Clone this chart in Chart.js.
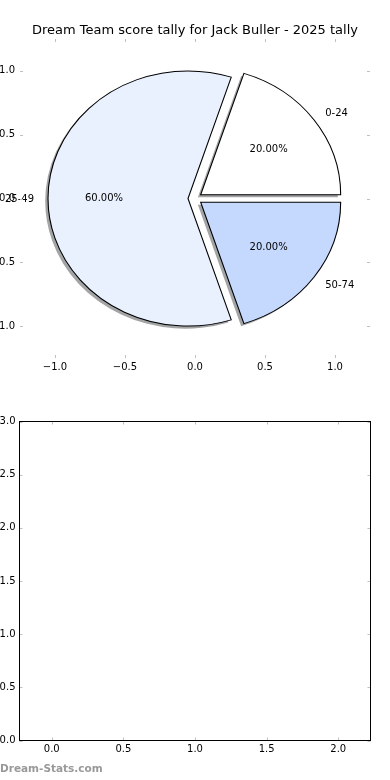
<!DOCTYPE html>
<html>
<head>
<meta charset="utf-8">
<script src="https://cdn.jsdelivr.net/npm/chart.js@4.4.1/dist/chart.umd.min.js"></script>
<style>
  body { margin: 0; background: #fff; }
  #wrap { position: relative; width: 390px; height: 780px; overflow: hidden; }
  #pieChart { position: absolute; left: 0; top: 0; }
  #emptyChart { position: absolute; left: 0; top: 390px; }
  #credit { position: absolute; left: 0; top: 762px; font: bold 10.5px "DejaVu Sans", sans-serif; color: #999; }
</style>
</head>
<body>
<div id="wrap">
  <canvas id="pieChart" width="390" height="390"></canvas>
  <canvas id="emptyChart" width="390" height="390"></canvas>
  <div id="credit">Dream-Stats.com</div>
</div>
<script>
const chartTitle = "Dream Team score tally for Jack Buller - 2025 tally";
const scoreBands = ["0-24", "25-49", "50-74"];
const bandCounts = [1, 3, 1];
const bandColors = ["#ffffff", "#e9f0fe", "#c5d8fd"];
const pieTicks = [-1, -0.5, 0, 0.5, 1];
const lowerXTicks = [0, 0.5, 1, 1.5, 2];
const lowerYTicks = [0, 0.5, 1, 1.5, 2, 2.5, 3];

const explode = 0.05;

Chart.defaults.font.family = '"DejaVu Sans", sans-serif';
Chart.defaults.font.size = 10;
Chart.defaults.color = "#000";

// matplotlib style labels: 1.0, 0.5, −0.5
const fmt = v => (v < 0 ? "\u2212" : "") + Math.abs(v).toFixed(1);

// small grey ticks pointing inward on all four sides
const insideTicks = {
  id: "insideTicks",
  afterDraw(chart) {
    const { ctx, chartArea: a, scales } = chart;
    ctx.save();
    ctx.strokeStyle = "#c0c0c0";
    ctx.lineWidth = 1;
    ctx.beginPath();
    scales.x.ticks.forEach(t => {
      const px = Math.round(scales.x.getPixelForValue(t.value)) + 0.5;
      ctx.moveTo(px, a.top); ctx.lineTo(px, a.top + 3);
      ctx.moveTo(px, a.bottom); ctx.lineTo(px, a.bottom - 3);
    });
    scales.y.ticks.forEach(t => {
      const py = Math.round(scales.y.getPixelForValue(t.value)) + 0.5;
      ctx.moveTo(a.left, py); ctx.lineTo(a.left + 3, py);
      ctx.moveTo(a.right, py); ctx.lineTo(a.right - 3, py);
    });
    ctx.stroke();
    ctx.restore();
  }
};

const frame = {
  id: "frame",
  afterDraw(chart) {
    const { ctx, chartArea: a } = chart;
    ctx.save();
    ctx.strokeStyle = "#000";
    ctx.lineWidth = 1;
    ctx.strokeRect(a.left, a.top, a.right - a.left, a.bottom - a.top);
    ctx.restore();
  }
};

// the pie lives in data units of the x/y scales, so it comes out as an ellipse
const pieLook = {
  id: "pieLook",
  beforeDatasetsDraw(chart) {
    const { ctx, scales } = chart;
    const meta = chart.getDatasetMeta(0);
    const x0 = scales.x.getPixelForValue(0), y0 = scales.y.getPixelForValue(0);
    const ux = scales.x.getPixelForValue(1) - x0;
    const uy = y0 - scales.y.getPixelForValue(1);

    const drawArc = (arc, shadow) => {
      const R = arc.outerRadius;
      const mid = (arc.startAngle + arc.endAngle) / 2;
      ctx.save();
      if (shadow) ctx.translate(-0.02 * ux, 0.02 * uy);
      ctx.translate(x0, y0);
      ctx.scale(ux / R, uy / R);
      ctx.translate(Math.cos(mid) * explode * R, Math.sin(mid) * explode * R);
      ctx.translate(-arc.x, -arc.y);
      const o = arc.options;
      if (shadow) arc.options = { ...o, backgroundColor: "rgba(72,74,78,0.5)", borderWidth: 0 };
      arc.draw(ctx);
      arc.options = o;
      ctx.restore();
    };
    meta.data.forEach(a => drawArc(a, true));
    meta.data.forEach(a => drawArc(a, false));

    const data = chart.data.datasets[0].data;
    const total = data.reduce((s, v) => s + v, 0);
    ctx.save();
    ctx.font = '10px "DejaVu Sans", sans-serif';
    ctx.fillStyle = "#000";
    ctx.textBaseline = "middle";
    meta.data.forEach((arc, i) => {
      const mid = (arc.startAngle + arc.endAngle) / 2;
      const c = Math.cos(mid), s = Math.sin(mid);
      ctx.textAlign = c > 0 ? "left" : "right";
      ctx.fillText(chart.data.labels[i], x0 + c * (1.1 + explode) * ux, y0 + s * (1.1 + explode) * uy + 1);
      ctx.textAlign = "center";
      ctx.fillText((data[i] / total * 100).toFixed(2) + "%", x0 + c * (0.6 + explode) * ux, y0 + s * (0.6 + explode) * uy);
    });
    ctx.restore();
    return false;
  }
};

// Chart.js goes clockwise, matplotlib counter-clockwise: reverse the order
new Chart(document.getElementById("pieChart"), {
  type: "pie",
  data: {
    labels: [...scoreBands].reverse(),
    datasets: [{
      data: [...bandCounts].reverse(),
      backgroundColor: [...bandColors].reverse(),
      borderColor: "#000",
      borderWidth: 1,
      borderJoinStyle: "miter",
      radius: 128,
      offset: 0,
      rotation: 90
    }]
  },
  options: {
    responsive: false,
    animation: false,
    layout: { padding: 0 },
    plugins: {
      legend: { display: false },
      tooltip: { enabled: false },
      title: {
        display: true,
        text: chartTitle,
        color: "#000",
        font: { size: 13, weight: "normal" },
        padding: { top: 23.2, bottom: 0.2 }
      }
    },
    scales: {
      x: {
        type: "linear", position: "bottom", display: true,
        min: -1.25, max: 1.25,
        grid: { display: false, drawTicks: false }, border: { display: false },
        afterBuildTicks: s => { s.ticks = pieTicks.map(v => ({ value: v })); },
        afterFit: s => { s.height = 32; },
        ticks: { callback: fmt, padding: 3, maxRotation: 0, autoSkip: false }
      },
      y: {
        type: "linear", position: "left", display: true,
        min: -1.25, max: 1.25,
        grid: { display: false, drawTicks: false }, border: { display: false },
        afterBuildTicks: s => { s.ticks = pieTicks.map(v => ({ value: v })); },
        afterFit: s => { s.width = 20; },
        ticks: { callback: fmt, padding: 5, autoSkip: false }
      },
      // empty right-hand strip so the axes box sits where matplotlib put it
      yRight: {
        type: "linear", position: "right", display: true,
        min: -1.25, max: 1.25,
        grid: { display: false, drawTicks: false }, border: { display: false },
        ticks: { display: false },
        afterFit: s => { s.width = 20; }
      }
    }
  },
  plugins: [pieLook, insideTicks]
});

new Chart(document.getElementById("emptyChart"), {
  type: "scatter",
  data: { datasets: [] },
  options: {
    responsive: false,
    animation: false,
    layout: { padding: { left: 0, right: 19.5, top: 31.5, bottom: 0 } },
    plugins: { legend: { display: false }, tooltip: { enabled: false } },
    scales: {
      x: {
        type: "linear", min: -0.225, max: 2.225,
        grid: { display: false, drawTicks: false }, border: { display: false },
        afterBuildTicks: s => { s.ticks = lowerXTicks.map(v => ({ value: v })); },
        afterFit: s => { s.height = 39.5; },
        ticks: { callback: fmt, padding: 3, maxRotation: 0, autoSkip: false }
      },
      y: {
        type: "linear", min: 0, max: 3,
        grid: { display: false, drawTicks: false }, border: { display: false },
        afterBuildTicks: s => { s.ticks = lowerYTicks.map(v => ({ value: v })); },
        afterFit: s => { s.width = 19.5; },
        ticks: { callback: fmt, padding: 4, autoSkip: false }
      }
    }
  },
  plugins: [insideTicks, frame]
});
</script>
</body>
</html>
